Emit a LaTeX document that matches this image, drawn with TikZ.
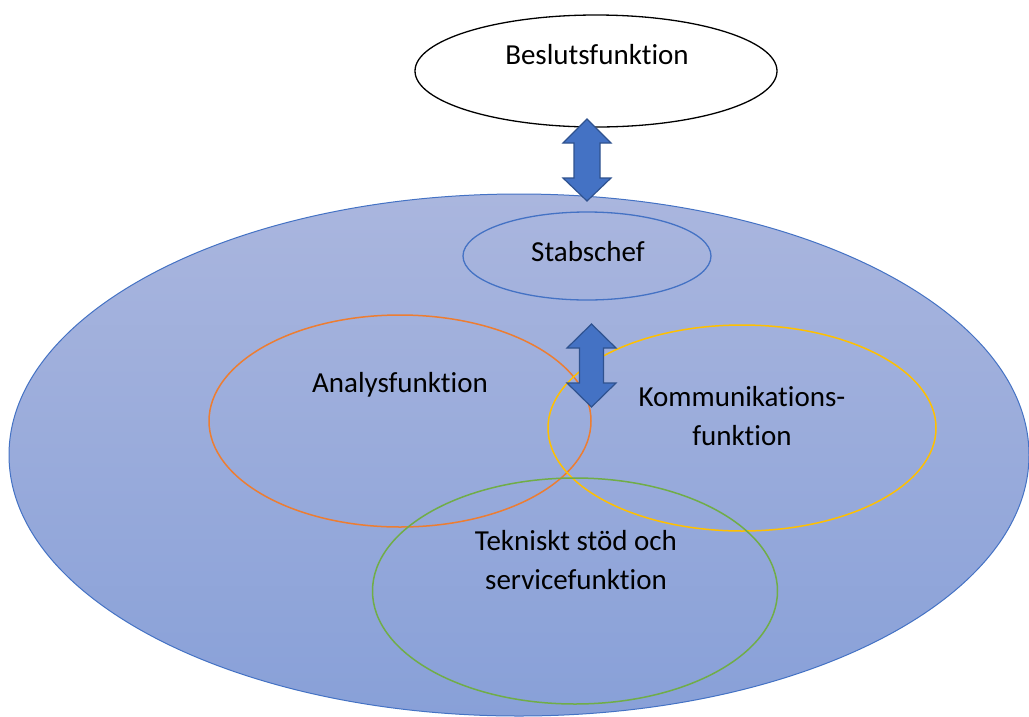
\documentclass[tikz,border=0pt]{standalone}
\usepackage{fontspec}
\setmainfont{Carlito}[Ligatures={NoCommon}]
\usetikzlibrary{shapes.geometric,calc}
\definecolor{accblue}{RGB}{68,114,196}
\definecolor{arrowedge}{RGB}{47,82,143}
\definecolor{bigtop}{RGB}{170,182,222}
\definecolor{bigbot}{RGB}{136,160,216}
\definecolor{accorange}{RGB}{237,125,49}
\definecolor{accyellow}{RGB}{255,192,0}
\definecolor{accgreen}{RGB}{112,173,71}
\tikzset{
  oval/.style={ellipse, inner sep=0pt},
  lbl/.style={font=\fontsize{29}{39}\selectfont, align=center, text=black, inner sep=0pt},
  fatarrow/.style={fill=accblue, draw=arrowedge, line width=1.2pt, line join=miter},
}
\begin{document}
\begin{tikzpicture}[x=1pt,y=-1pt]
\useasboundingbox (0,0) rectangle (1029,716);
\fill[white] (0,0) rectangle (1029,716);
% big ellipse
\node[oval, draw=accblue, line width=1pt, top color=bigtop, bottom color=bigbot,
      minimum width=1020pt, minimum height=522pt] (big) at (519,455) {};
% top ellipse
\node[oval, draw=black, line width=1.3pt, fill=white,
      minimum width=362pt, minimum height=112pt] (besl) at (596,71) {};
\node[lbl] (beslt) at (597,55) {Beslutsfunktion};
% stabschef
\node[oval, draw=accblue, line width=1.3pt,
      minimum width=248pt, minimum height=88pt] (stab) at (587,256) {};
\node[lbl] (stabt) at (588,252) {Stabschef};
% three function ellipses
\node[oval, draw=accorange, line width=1.5pt,
      minimum width=382pt, minimum height=212pt] (anal) at (400,421) {};
\node[lbl] (analt) at (400,385) {Analysfunktion};
\node[oval, draw=accyellow, line width=1.5pt,
      minimum width=388pt, minimum height=206pt] (komm) at (742,428) {};
\node[lbl] (kommt) at (742,416) {Kommunikations-\\funktion};
\node[oval, draw=accgreen, line width=1.5pt,
      minimum width=405pt, minimum height=226pt] (tekn) at (575,591) {};
\node[lbl] (teknt) at (576,560) {Tekniskt stöd och\\servicefunktion};
% double arrow 1 between besl and stab
\coordinate (a1) at (587,119);
\coordinate (b1) at (587,201);
\draw[fatarrow] (a1) -- ($(a1)+(24,24)$) -- ($(a1)+(13,24)$) -- ($(b1)+(13,-23)$) -- ($(b1)+(24,-23)$)
  -- (b1) -- ($(b1)+(-24,-23)$) -- ($(b1)+(-13,-23)$) -- ($(a1)+(-13,24)$) -- ($(a1)+(-24,24)$) -- cycle;
% double arrow 2 between stab and functions
\coordinate (a2) at (591.5,324);
\coordinate (b2) at (591.5,407);
\draw[fatarrow] (a2) -- ($(a2)+(24.5,24)$) -- ($(a2)+(12,24)$) -- ($(b2)+(12,-24)$) -- ($(b2)+(24.5,-24)$)
  -- (b2) -- ($(b2)+(-24.5,-24)$) -- ($(b2)+(-12,-24)$) -- ($(a2)+(-12,24)$) -- ($(a2)+(-24.5,24)$) -- cycle;
\end{tikzpicture}
\end{document}
